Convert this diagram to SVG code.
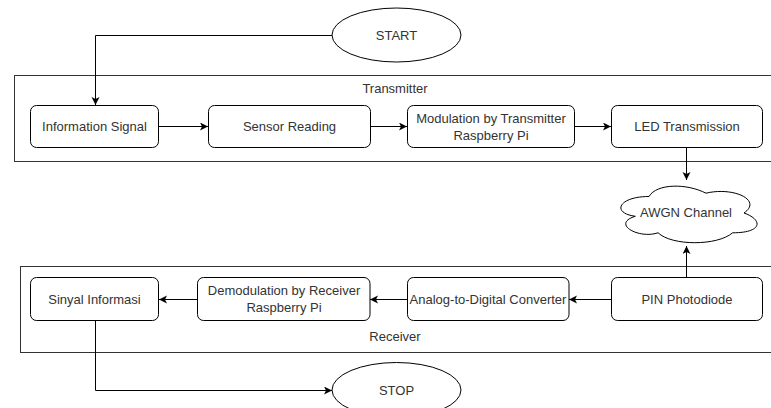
<svg xmlns="http://www.w3.org/2000/svg" width="771" height="408" viewBox="0 0 771 408">
<defs>
<marker id="arr" markerWidth="10" markerHeight="10" refX="8" refY="4" orient="auto" markerUnits="userSpaceOnUse">
<path d="M0,0 L8,4 L0,8 L2,4 z" fill="#000"/>
</marker>
</defs>
<style>
text{font-family:"Liberation Sans",Arial,Helvetica,sans-serif;font-size:13px;fill:#333;text-anchor:middle}
.box{fill:#fff;stroke:#000;stroke-width:1}
.cont{fill:none;stroke:#333;stroke-width:1}
.edge{fill:none;stroke:#000;stroke-width:1;marker-end:url(#arr)}
</style>
<rect width="771" height="408" fill="#fff"/>
<g id="transmitter">
<rect class="cont" x="14.5" y="75.5" width="770" height="86"/>
<text x="395" y="93">Transmitter</text>
</g>
<g id="receiver">
<rect class="cont" x="20.5" y="266.5" width="770" height="86"/>
<text x="395" y="341">Receiver</text>
</g>
<g id="start">
<ellipse class="box" cx="396.5" cy="35" rx="64.5" ry="27"/>
<text x="396.5" y="39.5">START</text>
</g>
<g id="stop">
<ellipse class="box" cx="396.5" cy="390" rx="64.5" ry="27.5"/>
<text x="396.5" y="394.5">STOP</text>
</g>
<g id="info-signal">
<rect class="box" x="30.5" y="105.5" width="128" height="42" rx="6"/>
<text x="94.5" y="131">Information Signal</text>
</g>
<g id="sensor-reading">
<rect class="box" x="208.5" y="105.5" width="162" height="42" rx="6"/>
<text x="289.5" y="131">Sensor Reading</text>
</g>
<g id="modulation">
<rect class="box" x="407.5" y="105.5" width="167" height="42" rx="6"/>
<text x="491" y="123">Modulation by Transmitter</text>
<text x="491" y="139.5">Raspberry Pi</text>
</g>
<g id="led-transmission">
<rect class="box" x="611.5" y="105.5" width="151" height="42" rx="6"/>
<text x="687" y="131">LED Transmission</text>
</g>
<g id="awgn">
<path class="box" d="M649,196.5 C618.6,196.5 611,213 635.3,216.3 C611,223.6 638.4,239.4 658.1,232.8 C671.8,246 717.4,246 732.6,232.8 C763,232.8 763,219.6 744,213 C763,199.8 732.6,186.6 706,193.2 C687,183.3 656.6,183.3 649,196.5 Z"/>
<text x="686" y="216.5">AWGN Channel</text>
</g>
<g id="pin-photodiode">
<rect class="box" x="611.5" y="277.5" width="151" height="43" rx="6"/>
<text x="687" y="303.5">PIN Photodiode</text>
</g>
<g id="adc">
<rect class="box" x="407.5" y="277.5" width="161.5" height="43" rx="6"/>
<text x="488" y="303.5">Analog-to-Digital Converter</text>
</g>
<g id="demodulation">
<rect class="box" x="197.5" y="277.5" width="172.5" height="43" rx="6"/>
<text x="284" y="295">Demodulation by Receiver</text>
<text x="284" y="311.5">Raspberry Pi</text>
</g>
<g id="sinyal-informasi">
<rect class="box" x="30.5" y="277.5" width="128" height="43" rx="6"/>
<text x="94.5" y="303.5">Sinyal Informasi</text>
</g>
<g id="connectors">
<path class="edge" d="M332,35.5 H95.5 V105"/>
<path class="edge" d="M158.5,126.5 H208"/>
<path class="edge" d="M370.5,126.5 H407"/>
<path class="edge" d="M574.5,126.5 H611"/>
<path class="edge" d="M686.5,147.5 V180"/>
<path class="edge" d="M686.5,277.5 V246"/>
<path class="edge" d="M611.5,299.5 H569"/>
<path class="edge" d="M407.5,299.5 H370"/>
<path class="edge" d="M197.5,299.5 H159"/>
<path class="edge" d="M95.5,320.5 V390.5 H332"/>
</g>
</svg>
